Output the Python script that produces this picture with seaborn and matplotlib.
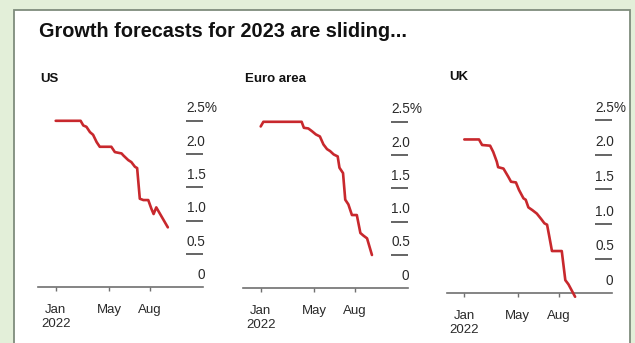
import matplotlib
matplotlib.use("Agg")
import matplotlib.pyplot as plt
import matplotlib.dates as mdates
from matplotlib.patches import Rectangle
import pandas as pd
import seaborn as sns

# ---------------- data ----------------
title = "Growth forecasts for 2023 are sliding..."
panel_names = ["US", "Euro area", "UK"]

us_dates = ["2022-01-01", "2022-02-26", "2022-03-04", "2022-03-11", "2022-03-19",
            "2022-03-26", "2022-04-03", "2022-04-10", "2022-05-06", "2022-05-14",
            "2022-05-29", "2022-06-02", "2022-06-13", "2022-06-20", "2022-06-28",
            "2022-07-03", "2022-07-09", "2022-07-17", "2022-07-28", "2022-08-04",
            "2022-08-09", "2022-08-15", "2022-09-10"]
us_values = [2.50, 2.50, 2.43, 2.41, 2.33, 2.29, 2.18, 2.11, 2.11, 2.03,
             2.01, 1.98, 1.91, 1.88, 1.81, 1.79, 1.33, 1.31, 1.31, 1.18,
             1.10, 1.20, 0.90]

eu_dates = ["2022-01-01", "2022-01-07", "2022-04-03", "2022-04-08", "2022-04-18",
            "2022-04-26", "2022-05-05", "2022-05-14", "2022-05-22", "2022-05-30",
            "2022-06-06", "2022-06-14", "2022-06-23", "2022-06-27", "2022-07-05",
            "2022-07-10", "2022-07-17", "2022-07-25", "2022-08-05", "2022-08-13",
            "2022-08-20", "2022-08-28", "2022-09-08"]
eu_values = [2.43, 2.50, 2.50, 2.41, 2.40, 2.36, 2.31, 2.28, 2.16, 2.09,
             2.06, 2.01, 1.98, 1.81, 1.73, 1.33, 1.26, 1.10, 1.10, 0.83,
             0.79, 0.75, 0.50]

uk_dates = ["2022-01-01", "2022-02-03", "2022-02-10", "2022-02-28", "2022-03-07",
            "2022-03-15", "2022-03-18", "2022-03-30", "2022-04-10", "2022-04-16",
            "2022-04-27", "2022-05-04", "2022-05-14", "2022-05-19", "2022-05-25",
            "2022-06-03", "2022-06-13", "2022-06-23", "2022-06-30", "2022-07-06",
            "2022-07-11", "2022-07-17", "2022-08-08", "2022-08-16", "2022-08-23",
            "2022-09-07"]
uk_values = [2.22, 2.22, 2.14, 2.13, 2.04, 1.90, 1.82, 1.80, 1.68, 1.61,
             1.60, 1.49, 1.37, 1.35, 1.24, 1.20, 1.15, 1.07, 1.01, 0.99,
             0.82, 0.61, 0.61, 0.19, 0.13, -0.05]

y_ticks = [0, 0.5, 1.0, 1.5, 2.0, 2.5]
y_tick_labels = ["0", "0.5", "1.0", "1.5", "2.0", "2.5%"]
x_ticks = ["2022-01-01", "2022-05-01", "2022-08-01"]
x_tick_labels = ["Jan\n2022", "May", "Aug"]

series = [(us_dates, us_values), (eu_dates, eu_values), (uk_dates, uk_values)]

# ---------------- style ----------------
sns.set_theme(style="white")
plt.rcParams["font.family"] = ["Liberation Sans", "DejaVu Sans"]

RED = "#c8282d"
W, H = 635, 343
fig = plt.figure(figsize=(6.35, 3.43), dpi=100)
fig.patch.set_facecolor("#e3efd9")
fig.patches.append(Rectangle((14 / W, -0.02), (630 - 14) / W, 1.02 - 10 / H,
                             transform=fig.transFigure, facecolor="white",
                             edgecolor="#7f8c7d", lw=1.3, zorder=-5))

fig.text(39 / W, 1 - 37 / H, title, fontsize=14.3, fontweight="bold",
         color="#111111", va="baseline", ha="left")

# panel geometry in pixels: left edge, zero line, px per unit, Jan tick
layout = [(38, 287.3, 66.6, 55.7), (243, 288.3, 66.6, 260.7), (447, 293.3, 69.3, 464.3)]
title_base = [82, 82, 80]
k = 0.445  # px per day
AX_W = 185
jan = pd.Timestamp("2022-01-01")

for (dates, values), name, (L, Z, S, J), tb in zip(series, panel_names, layout, title_base):
    ax = fig.add_axes([L / W, 1 - (Z + 0.25 * S) / H, AX_W / W, 3.0 * S / H])
    ax.set_facecolor("none")
    ax.set_zorder(2)
    df = pd.DataFrame({"date": pd.to_datetime(dates), "value": values})
    sns.lineplot(data=df, x="date", y="value", ax=ax, color=RED, lw=1.9,
                 clip_on=False, zorder=5)
    x0 = jan - pd.Timedelta(days=(J - L) / k)
    x1 = x0 + pd.Timedelta(days=AX_W / k)
    ax.set_xlim(x0, x1)
    ax.set_ylim(-0.25, 2.75)
    for s in ["top", "right", "left"]:
        ax.spines[s].set_visible(False)
    seg_s = mdates.date2num(x0 + pd.Timedelta(days=148 / k))
    seg_e = mdates.date2num(x0 + pd.Timedelta(days=165 / k))
    ax.spines["bottom"].set_position(("data", 0))
    ax.spines["bottom"].set_bounds(mdates.date2num(x0), seg_e)
    ax.spines["bottom"].set_color("#707070")
    ax.spines["bottom"].set_linewidth(1.2)
    ax.set_yticks([])
    ax.set_xticks(pd.to_datetime(x_ticks))
    ax.set_xticklabels(x_tick_labels)
    ax.tick_params(axis="x", direction="out", length=3, width=1, color="#707070",
                   pad=9, labelsize=9.5, labelcolor="#2a2a2a", bottom=True)
    ax.set_xlabel("")
    ax.set_ylabel("")
    ax.hlines(y_ticks[1:], seg_s, seg_e, color="#4a4a4a", lw=1.2)
    for v, lab in zip(y_ticks, y_tick_labels):
        if v == 0:
            ax.annotate(lab, (seg_e, v), xytext=(1.5, 12.5), textcoords="offset pixels",
                        ha="right", va="center", fontsize=9.8, color="#2a2a2a")
        else:
            ax.annotate(lab, (seg_s, v), xytext=(0.5, 12.5), textcoords="offset pixels",
                        ha="left", va="center", fontsize=9.8, color="#2a2a2a")
    fig.text((L + 2) / W, 1 - tb / H, name, fontsize=9.5, fontweight="bold",
             color="#111111", va="baseline", ha="left")

fig.savefig("out.png", dpi=100, facecolor=fig.get_facecolor())
